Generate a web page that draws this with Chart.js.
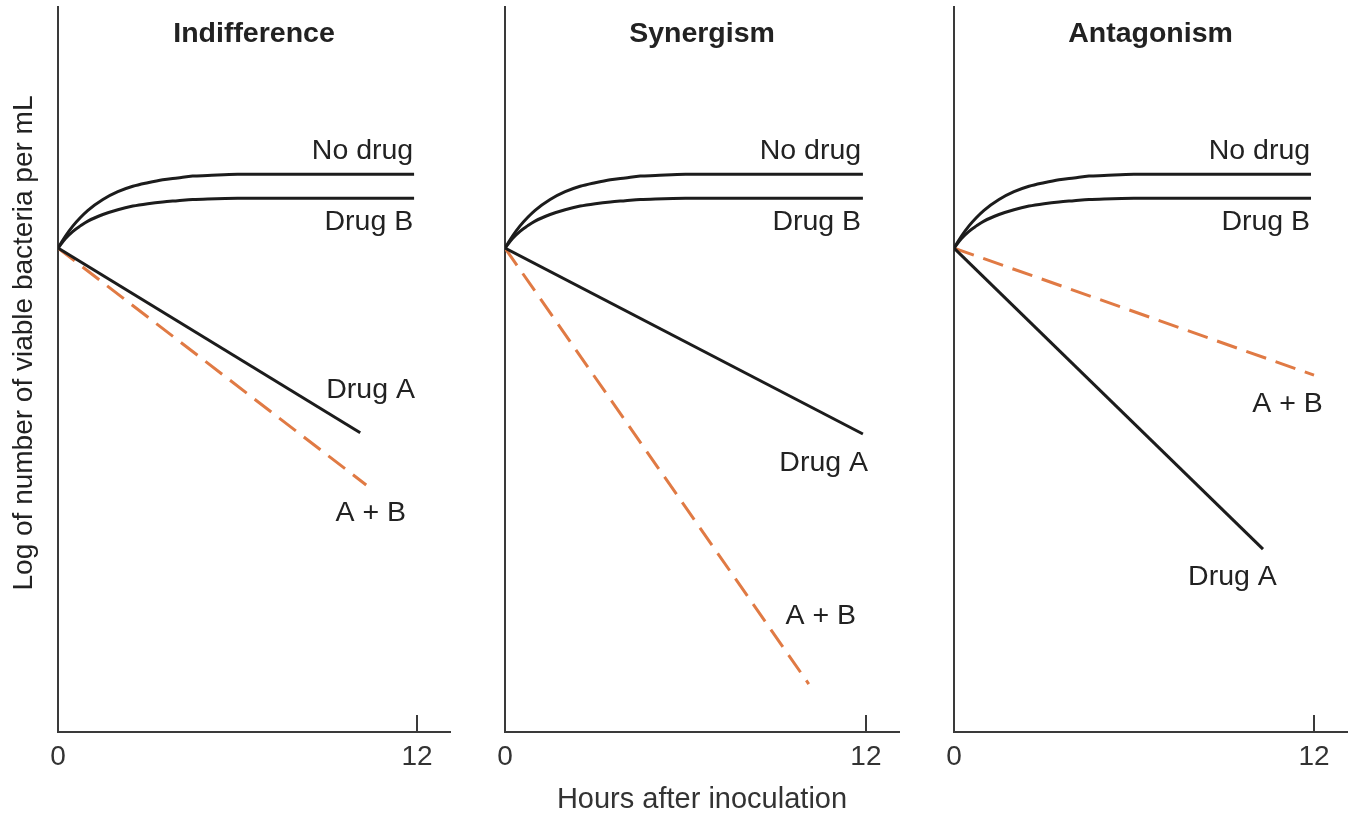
<!DOCTYPE html>
<html>
<head>
<meta charset="utf-8">
<script src="https://cdn.jsdelivr.net/npm/chart.js@4/dist/chart.umd.min.js"></script>
<style>
  html, body { margin: 0; padding: 0; background: #fff; }
  #figura { position: relative; width: 1349px; height: 815px; overflow: hidden; }
  #figura canvas { position: absolute; top: 0; }
</style>
</head>
<body>
<div id="figura">
  <canvas id="painel-0" width="452" height="815" style="left:0px"></canvas>
  <canvas id="painel-1" width="441" height="815" style="left:460px"></canvas>
  <canvas id="painel-2" width="439" height="815" style="left:910px"></canvas>
</div>
<script>
// Dados (horas após inoculação / log de bactérias por mL)
const xTicks = [0, 12];
const titulos = ['Indifference', 'Synergism', 'Antagonism'];
const nomesSeries = ['No drug', 'Drug B', 'Drug A', 'A + B'];

// Curvas comuns aos três painéis
const horasCurva = [0, 0.25, 0.5, 0.75, 1, 1.5, 2, 2.5, 3, 3.5, 4, 4.5, 5, 6, 11.9];
const semDroga = [8, 8.20, 8.37, 8.51, 8.63, 8.81, 8.94, 9.03, 9.09, 9.14, 9.17, 9.20, 9.21, 9.23, 9.23];
const drogaB = [8, 8.16, 8.28, 8.37, 8.45, 8.56, 8.64, 8.70, 8.74, 8.77, 8.79, 8.81, 8.82, 8.83, 8.83];

// Indiferença
const horasIndifA = [0, 10.1];
const indifA = [8, 4.92];
const horasIndifAB = [0, 10.3];
const indifAB = [8, 4.05];

// Sinergismo
const horasSinergA = [0, 11.9];
const sinergA = [8, 4.9];
const horasSinergAB = [0, 10.1];
const sinergAB = [8, 0.73];

// Antagonismo
const horasAntagA = [0, 10.3];
const antagA = [8, 2.98];
const horasAntagAB = [0, 12.0];
const antagAB = [8, 5.88];

const FONTE = "'Liberation Sans', Arial, Helvetica, sans-serif";
const COR_EIXO = '#3a3a3a';
const COR_LINHA = '#1c1c1c';
const COR_LARANJA = '#e07a44';

Chart.defaults.font.family = FONTE;

function pontos(xs, ys) {
    return xs.map((x, i) => ({ x: x, y: ys[i] }));
}

// Configuração de cada painel (posição dos rótulos em unidades dos eixos)
const paineis = [
    {
        linhaA: pontos(horasIndifA, indifA),
        linhaAB: pontos(horasIndifAB, indifAB),
        larguraY: 58,
        rotulos: [
            { texto: nomesSeries[0], x: 11.87, y: 9.61 },
            { texto: nomesSeries[1], x: 11.87, y: 8.43 },
            { texto: nomesSeries[2], x: 11.93, y: 5.63 },
            { texto: nomesSeries[3], x: 11.63, y: 3.58 }
        ]
    },
    {
        linhaA: pontos(horasSinergA, sinergA),
        linhaAB: pontos(horasSinergAB, sinergAB),
        larguraY: 45,
        rotulos: [
            { texto: nomesSeries[0], x: 11.84, y: 9.61 },
            { texto: nomesSeries[1], x: 11.84, y: 8.43 },
            { texto: nomesSeries[2], x: 12.07, y: 4.42 },
            { texto: nomesSeries[3], x: 11.67, y: 1.87 }
        ]
    },
    {
        linhaA: pontos(horasAntagA, antagA),
        linhaAB: pontos(horasAntagAB, antagAB),
        larguraY: 44,
        rotulos: [
            { texto: nomesSeries[0], x: 11.87, y: 9.61 },
            { texto: nomesSeries[1], x: 11.87, y: 8.43 },
            { texto: nomesSeries[3], x: 12.29, y: 5.40 },
            { texto: nomesSeries[2], x: 10.76, y: 2.52 }
        ]
    }
];

// Plugin que escreve título do painel, rótulos das curvas e o título do eixo Y
const textoPainel = {
    id: 'textoPainel',
    afterDatasetsDraw(chart, args, opts) {
        const { ctx, chartArea, scales } = chart;
        ctx.save();
        ctx.fillStyle = '#222';
        ctx.textBaseline = 'middle';

        ctx.font = 'bold 28.5px ' + FONTE;
        ctx.textAlign = 'center';
        ctx.fillText(opts.titulo, (chartArea.left + chartArea.right) / 2, 34);

        ctx.font = '28.5px ' + FONTE;
        ctx.textAlign = 'right';
        opts.rotulos.forEach(r => {
            ctx.fillText(r.texto, scales.x.getPixelForValue(r.x), scales.y.getPixelForValue(r.y));
        });

        if (opts.tituloY) {
            ctx.font = '28px ' + FONTE;
            ctx.translate(24, 343);
            ctx.rotate(-Math.PI / 2);
            ctx.textAlign = 'center';
            ctx.fillText(opts.tituloY, 0, 0);
        }
        ctx.restore();
    }
};

// Função para renderizar um painel
function renderizarPainel(indice) {
    const p = paineis[indice];
    const ctx = document.getElementById('painel-' + indice).getContext('2d');

    new Chart(ctx, {
        type: 'line',
        data: {
            datasets: [
                { label: nomesSeries[0], data: pontos(horasCurva, semDroga), borderColor: COR_LINHA, borderWidth: 3, cubicInterpolationMode: 'monotone' },
                { label: nomesSeries[1], data: pontos(horasCurva, drogaB), borderColor: COR_LINHA, borderWidth: 3, cubicInterpolationMode: 'monotone' },
                { label: nomesSeries[2], data: p.linhaA, borderColor: COR_LINHA, borderWidth: 3 },
                { label: nomesSeries[3], data: p.linhaAB, borderColor: COR_LARANJA, borderWidth: 3, borderDash: [21, 10] }
            ]
        },
        options: {
            responsive: false,
            animation: false,
            events: [],
            layout: { padding: { top: 7, right: 2, bottom: 0, left: 0 } },
            elements: { point: { radius: 0 } },
            plugins: {
                legend: { display: false },
                tooltip: { enabled: false },
                textoPainel: {
                    titulo: titulos[indice],
                    rotulos: p.rotulos,
                    tituloY: indice === 0 ? 'Log of number of viable bacteria per mL' : null
                }
            },
            scales: {
                x: {
                    type: 'linear',
                    min: 0,
                    max: 13.1,
                    afterBuildTicks: s => { s.ticks = xTicks.map(v => ({ value: v })); },
                    afterFit: s => {
                        s.height = 83;
                        s.paddingLeft = 0;
                        s.paddingRight = 0;
                    },
                    ticks: { font: { size: 28 }, color: '#333', padding: 25, maxRotation: 0, autoSkip: false },
                    grid: { drawOnChartArea: false, drawTicks: true, tickLength: -17, color: COR_EIXO, tickColor: COR_EIXO, lineWidth: 2 },
                    border: { display: true, color: COR_EIXO, width: 2 },
                    title: {
                        display: indice === 1,
                        text: 'Hours after inoculation',
                        font: { size: 29 },
                        color: '#333',
                        padding: { top: 0, bottom: -2 }
                    }
                },
                y: {
                    min: -0.07,
                    max: 12.02,
                    afterFit: s => { s.width = p.larguraY; },
                    ticks: { display: false },
                    grid: { display: false },
                    border: { display: true, color: COR_EIXO, width: 2 }
                }
            }
        },
        plugins: [textoPainel]
    });
}

paineis.forEach((p, i) => renderizarPainel(i));
</script>
</body>
</html>
